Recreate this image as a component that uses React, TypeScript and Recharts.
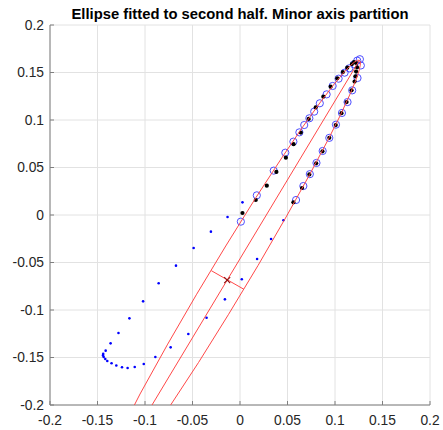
import React from 'react';
import { ScatterChart, Scatter, XAxis, YAxis, CartesianGrid } from 'recharts';

// Axis ticks
const ticks = [-0.2, -0.15, -0.1, -0.05, 0, 0.05, 0.1, 0.15, 0.2];
const tickLabels = ['-0.2', '-0.15', '-0.1', '-0.05', '0', '0.05', '0.1', '0.15', '0.2'];

// First half of the trajectory (small blue dots)
const firstHalf = [
  { x: 0.0457, y: -0.0056 }, { x: 0.0327, y: -0.0253 }, { x: 0.018, y: -0.0463 },
  { x: 0.0019, y: -0.0677 }, { x: -0.0159, y: -0.0888 }, { x: -0.0352, y: -0.1081 },
  { x: -0.0544, y: -0.1253 }, { x: -0.073, y: -0.1393 }, { x: -0.0891, y: -0.1495 },
  { x: -0.1013, y: -0.1568 }, { x: -0.1108, y: -0.16 }, { x: -0.1183, y: -0.161 },
  { x: -0.1242, y: -0.1603 }, { x: -0.1302, y: -0.1584 }, { x: -0.1352, y: -0.1561 },
  { x: -0.1397, y: -0.1537 }, { x: -0.1418, y: -0.1516 }, { x: -0.1435, y: -0.1495 },
  { x: -0.1442, y: -0.1478 }, { x: -0.144, y: -0.1462 }, { x: -0.1414, y: -0.1428 },
  { x: -0.1362, y: -0.1351 }, { x: -0.1279, y: -0.1242 }, { x: -0.1164, y: -0.1088 },
  { x: -0.102, y: -0.0909 }, { x: -0.0856, y: -0.0719 }, { x: -0.0674, y: -0.0533 },
  { x: -0.0488, y: -0.0347 }, { x: -0.0306, y: -0.0175 }, { x: -0.0131, y: -0.0021 },
  { x: 0.0026, y: 0.0133 },
];

// Second half of the trajectory (black dots)
const secondHalf = [
  { x: 0.0026, y: 0.0021 }, { x: 0.0166, y: 0.0158 }, { x: 0.0282, y: 0.0309 },
  { x: 0.0383, y: 0.0453 }, { x: 0.0483, y: 0.0603 }, { x: 0.0564, y: 0.0746 },
  { x: 0.064, y: 0.0868 }, { x: 0.0723, y: 0.1011 }, { x: 0.0797, y: 0.1132 },
  { x: 0.0877, y: 0.1246 }, { x: 0.0954, y: 0.1351 }, { x: 0.1024, y: 0.1439 },
  { x: 0.1083, y: 0.1505 }, { x: 0.1129, y: 0.1551 }, { x: 0.1178, y: 0.1589 },
  { x: 0.12, y: 0.161 }, { x: 0.1222, y: 0.16 }, { x: 0.1232, y: 0.1555 },
  { x: 0.1222, y: 0.151 }, { x: 0.1215, y: 0.146 }, { x: 0.1206, y: 0.1404 },
  { x: 0.1174, y: 0.1312 }, { x: 0.1122, y: 0.1189 }, { x: 0.1068, y: 0.1072 },
  { x: 0.1008, y: 0.0947 }, { x: 0.094, y: 0.0812 }, { x: 0.0868, y: 0.067 },
  { x: 0.0802, y: 0.0544 }, { x: 0.073, y: 0.0427 }, { x: 0.0653, y: 0.0284 },
  { x: 0.0562, y: 0.0133 },
];

// Points on the fitted ellipse (open blue circles)
const fittedPoints = [
  { x: 0.0009, y: -0.007 }, { x: 0.0177, y: 0.0207 }, { x: 0.0355, y: 0.0467 },
  { x: 0.0477, y: 0.0656 }, { x: 0.0562, y: 0.0772 }, { x: 0.0625, y: 0.087 },
  { x: 0.0676, y: 0.0947 }, { x: 0.073, y: 0.1018 }, { x: 0.0781, y: 0.1088 },
  { x: 0.084, y: 0.1176 }, { x: 0.0912, y: 0.127 }, { x: 0.0975, y: 0.1358 },
  { x: 0.1038, y: 0.1435 }, { x: 0.1101, y: 0.1498 }, { x: 0.115, y: 0.1544 },
  { x: 0.1199, y: 0.1586 }, { x: 0.1234, y: 0.1625 }, { x: 0.1262, y: 0.164 },
  { x: 0.1272, y: 0.1574 }, { x: 0.1237, y: 0.1442 }, { x: 0.1181, y: 0.1312 },
  { x: 0.1132, y: 0.1189 }, { x: 0.1073, y: 0.1074 }, { x: 0.101, y: 0.0951 },
  { x: 0.094, y: 0.0812 }, { x: 0.087, y: 0.0674 }, { x: 0.0805, y: 0.0548 },
  { x: 0.0735, y: 0.043 }, { x: 0.0667, y: 0.0305 }, { x: 0.059, y: 0.0158 },
];

// Fitted ellipse outline (red)
const ellipseOutline = [
  { x: -0.1326, y: -0.2419 }, { x: -0.1052, y: -0.1884 }, { x: -0.0761, y: -0.1359 },
  { x: -0.046, y: -0.084 }, { x: -0.015, y: -0.0326 }, { x: 0.0167, y: 0.0183 },
  { x: 0.0441, y: 0.0603 }, { x: 0.0665, y: 0.0934 }, { x: 0.084, y: 0.1179 },
  { x: 0.0993, y: 0.138 }, { x: 0.1089, y: 0.1496 }, { x: 0.116, y: 0.1571 },
  { x: 0.1208, y: 0.1612 }, { x: 0.1237, y: 0.1629 }, { x: 0.1257, y: 0.1628 },
  { x: 0.1267, y: 0.1611 }, { x: 0.1266, y: 0.1576 }, { x: 0.1252, y: 0.1515 },
  { x: 0.1219, y: 0.1418 }, { x: 0.1161, y: 0.1278 }, { x: 0.1056, y: 0.1049 },
  { x: 0.0921, y: 0.078 }, { x: 0.0734, y: 0.0427 }, { x: 0.0491, y: -0.0011 },
  { x: 0.019, y: -0.0531 }, { x: -0.012, y: -0.1045 }, { x: -0.0437, y: -0.1553 },
  { x: -0.0767, y: -0.2056 }, { x: -0.111, y: -0.2549 },
];

const majorAxis = [{ x: 0.1257, y: 0.1628 }, { x: -0.1527, y: -0.2998 }];
const minorAxis = [{ x: -0.0302, y: -0.0586 }, { x: 0.0041, y: -0.0782 }];
const center = [{ x: -0.0135, y: -0.0685 }];

const W = 443;
const H = 430;
const FONT = '"Liberation Sans", Arial, Helvetica, sans-serif';
const RED = '#ff4848';

const BlueDot = (p: any) => <circle cx={p.cx} cy={p.cy} r={1.3} fill="#0000ff" />;
const BlackDot = (p: any) => <circle cx={p.cx} cy={p.cy} r={2.1} fill="#000000" />;
const OpenCircle = (p: any) => (
  <circle cx={p.cx} cy={p.cy} r={3.6} fill="none" stroke="#3a3aff" strokeWidth={0.9} />
);
const NoMark = () => <g />;
const CrossMark = (p: any) => (
  <g stroke="#8b1010" strokeWidth={1.1}>
    <line x1={p.cx - 3} y1={p.cy - 3} x2={p.cx + 3} y2={p.cy + 3} />
    <line x1={p.cx - 3} y1={p.cy + 3} x2={p.cx + 3} y2={p.cy - 3} />
  </g>
);

const fmt = (v: number) => {
  const i = ticks.findIndex((t) => Math.abs(t - v) < 1e-9);
  return i >= 0 ? tickLabels[i] : String(v);
};

const tickStyle = { fill: '#262626', fontSize: 13.8, fontFamily: FONT };

export default function App() {
  return (
    <div style={{ position: 'absolute', left: 0, top: 0, width: W, height: H, background: '#fff' }}>
      <div
        style={{
          position: 'absolute',
          left: 40,
          top: 6,
          width: 400,
          textAlign: 'center',
          fontFamily: FONT,
          fontWeight: 'bold',
          fontSize: 14.8,
          lineHeight: '16px',
          color: '#000',
          whiteSpace: 'nowrap',
        }}
      >
        Ellipse fitted to second half. Minor axis partition
      </div>
      <ScatterChart width={W} height={H} margin={{ top: 25, right: 13, bottom: 0, left: 0 }}>
        <CartesianGrid stroke="#e2e2e2" />
        <XAxis
          type="number"
          dataKey="x"
          domain={[-0.2, 0.2]}
          ticks={ticks}
          interval={0}
          allowDataOverflow
          height={25}
          tickSize={-4}
          tickMargin={14}
          tick={tickStyle}
          tickFormatter={fmt}
          axisLine={{ stroke: '#7f7f7f' }}
          tickLine={{ stroke: '#7f7f7f' }}
        />
        <YAxis
          type="number"
          dataKey="y"
          domain={[-0.2, 0.2]}
          ticks={ticks}
          interval={0}
          allowDataOverflow
          width={50}
          tickSize={-4}
          tickMargin={10}
          tick={tickStyle}
          tickFormatter={fmt}
          axisLine={{ stroke: '#7f7f7f' }}
          tickLine={{ stroke: '#7f7f7f' }}
        />
        <Scatter data={firstHalf} shape={BlueDot} isAnimationActive={false} />
        <Scatter data={fittedPoints} shape={OpenCircle} isAnimationActive={false} />
        <Scatter data={secondHalf} shape={BlackDot} isAnimationActive={false} />
        <Scatter
          data={ellipseOutline}
          shape={NoMark}
          line={{ stroke: RED, strokeWidth: 1 }}
          isAnimationActive={false}
        />
        <Scatter
          data={majorAxis}
          shape={NoMark}
          line={{ stroke: RED, strokeWidth: 1 }}
          isAnimationActive={false}
        />
        <Scatter
          data={minorAxis}
          shape={NoMark}
          line={{ stroke: RED, strokeWidth: 1 }}
          isAnimationActive={false}
        />
        <Scatter data={center} shape={CrossMark} isAnimationActive={false} />
      </ScatterChart>
    </div>
  );
}
